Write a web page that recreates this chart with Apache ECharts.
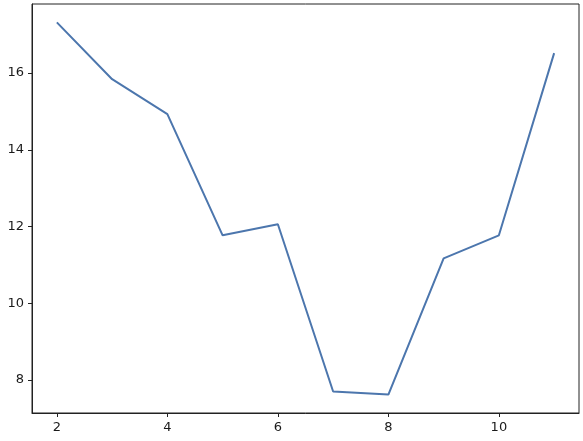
<!DOCTYPE html>
<html>
<head>
<meta http-equiv="content-type" content="text/html; charset=utf-8"/>
<title>line chart</title>
<style type="text/css">body,html{width:100%;height:100%;margin:0;background:#fff}#main{width:583px;height:441px}</style>
<script src="https://cdn.jsdelivr.net/npm/echarts@6/dist/echarts.min.js"></script>
</head>
<body>
<div id="main"></div>
<script>
	// data
	var xs = [2, 3, 4, 5, 6, 7, 8, 9, 10, 11];
	var ys = [17.32, 15.84, 14.93, 11.77, 12.06, 7.70, 7.62, 11.17, 11.77, 16.52];
	var xTicks = [2, 4, 6, 8, 10];
	var yTicks = [8, 10, 12, 14, 16];

	var pts = [];
	for (var i = 0; i < xs.length; i++) {
		pts.push([xs[i], ys[i]]);
	}

	var labelStyle = {color: '#1a1a1a', fontSize: 13, fontFamily: 'DejaVu Sans'};
	var chart = echarts.init(document.getElementById('main'));
	chart.setOption({
		animation: false,
		grid: {left: 32, right: 4, top: 4, bottom: 28, show: true, borderColor: '#222', borderWidth: 1},
		xAxis: {
			type: 'value', min: 1.55, max: 11.45,
			splitLine: {show: false},
			axisLine: {lineStyle: {color: '#222', width: 1}},
			axisTick: {show: true, length: 4, lineStyle: {color: '#222'}, customValues: xTicks},
			axisLabel: Object.assign({margin: 8, customValues: xTicks}, labelStyle)
		},
		yAxis: {
			type: 'value', min: 7.138, max: 17.80,
			splitLine: {show: false},
			axisLine: {show: true, lineStyle: {color: '#222', width: 1}},
			axisTick: {show: true, length: 4, lineStyle: {color: '#222'}, customValues: yTicks},
			axisLabel: Object.assign({margin: 8, customValues: yTicks}, labelStyle)
		},
		series: [{
			type: 'line',
			data: pts,
			showSymbol: false,
			lineStyle: {color: '#4c76ad', width: 2}
		}]
	});
</script>
</body>
</html>
